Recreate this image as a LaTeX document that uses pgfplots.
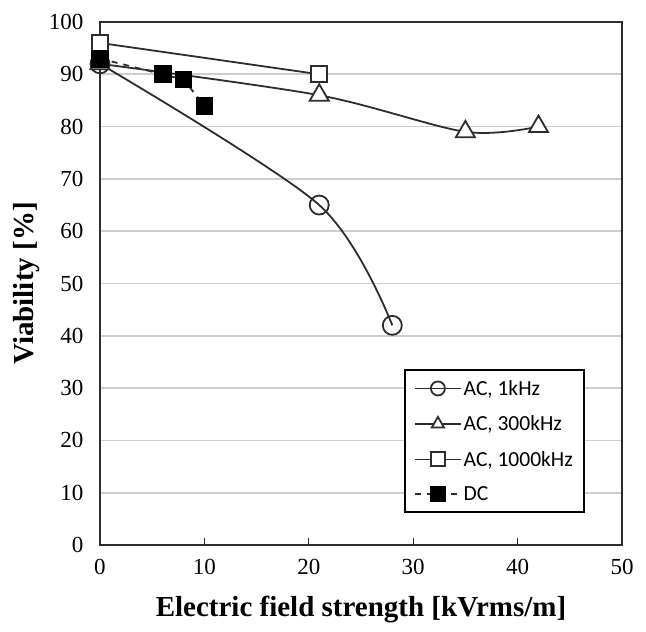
\documentclass[border=0pt]{standalone}
\usepackage{fontspec}
\setmainfont{Liberation Serif}
\newfontfamily\legendfont{Carlito}
\usepackage{pgfplots}
\pgfplotsset{compat=1.18}
\definecolor{gridgray}{RGB}{205,205,205}
\definecolor{linegray}{RGB}{45,45,45}

\begin{document}
\begin{tikzpicture}
\begin{axis}[
  name=main,
  scale only axis,
  width=522pt, height=523pt,
  xmin=0, xmax=50, ymin=0, ymax=100,
  xtick={0,10,...,50}, ytick={0,10,...,100},
  xtick pos=bottom, tick align=inside,
  major tick length=7pt,
  xtick style={line width=1.2pt, linegray},
  ytick style={draw=none},
  ymajorgrids,
  grid style={gridgray, line width=1.6pt},
  axis line style={line width=2.8pt, linegray},
  /pgf/number format/assume math mode=true,
  tick label style={font=\rmfamily\fontsize{23}{26}\selectfont},
  xticklabel style={yshift=-11pt},
  yticklabel style={xshift=-13pt},
  xlabel={Electric field strength [kVrms/m]},
  ylabel={Viability [\%]},
  label style={font=\rmfamily\fontsize{29}{32}\selectfont\bfseries},
  xlabel style={at={(axis description cs:0.5,-0.124)}, anchor=center},
  ylabel style={at={(axis description cs:-0.1400,0.5)}, anchor=center},
  clip=false,
  legend cell align=left,
  legend style={
    at={(rel axis cs:0.929,0.061)}, anchor=south east,
    draw=black, line width=2.2pt,
    font=\legendfont\fontsize{21.5}{24}\selectfont,
    inner xsep=9pt, inner ysep=8pt,
    row sep=15pt,
    /tikz/every even column/.append style={column sep=3pt},
  },
  legend image code/.code={%
    \draw[mark repeat=2, mark phase=2] plot coordinates {(0pt,0pt) (23pt,0pt) (46pt,0pt)};},
  legend image post style={mark size=7pt, line width=1.6pt},
  every axis plot/.append style={line width=1.8pt, linegray},
]

% AC, 1 kHz
\addplot[smooth, mark=o, mark size=9.5pt,
  mark options={fill=white, solid, line width=1.8pt}]
  coordinates {(0,92) (21,65) (28,42)};
\addlegendentry{AC, 1kHz}

% AC, 300 kHz
\addplot[smooth, mark=triangle*, mark size=11pt,
  mark options={fill=white, solid, line width=1.8pt}]
  coordinates {(0,92) (21,86) (35,79) (42,80)};
\addlegendentry{AC, 300kHz}

% AC, 1000 kHz
\addplot[mark=square*, mark size=8pt,
  mark options={fill=white, solid, line width=1.8pt}]
  coordinates {(0,96) (21,90)};
\addlegendentry{AC, 1000kHz}

% DC
\addplot[dash pattern=on 6pt off 6pt, mark=square*, mark size=8pt,
  mark options={fill=black, solid, draw=black}]
  coordinates {(0,93) (6,90) (8,89) (10,84)};
\addlegendentry{DC}

\end{axis}
% page margins around the axis box
\path[use as bounding box]
  ([xshift=-100pt, yshift=-86pt]main.south west)
  rectangle ([xshift=24pt, yshift=22pt]main.north east);
\end{tikzpicture}
\end{document}
